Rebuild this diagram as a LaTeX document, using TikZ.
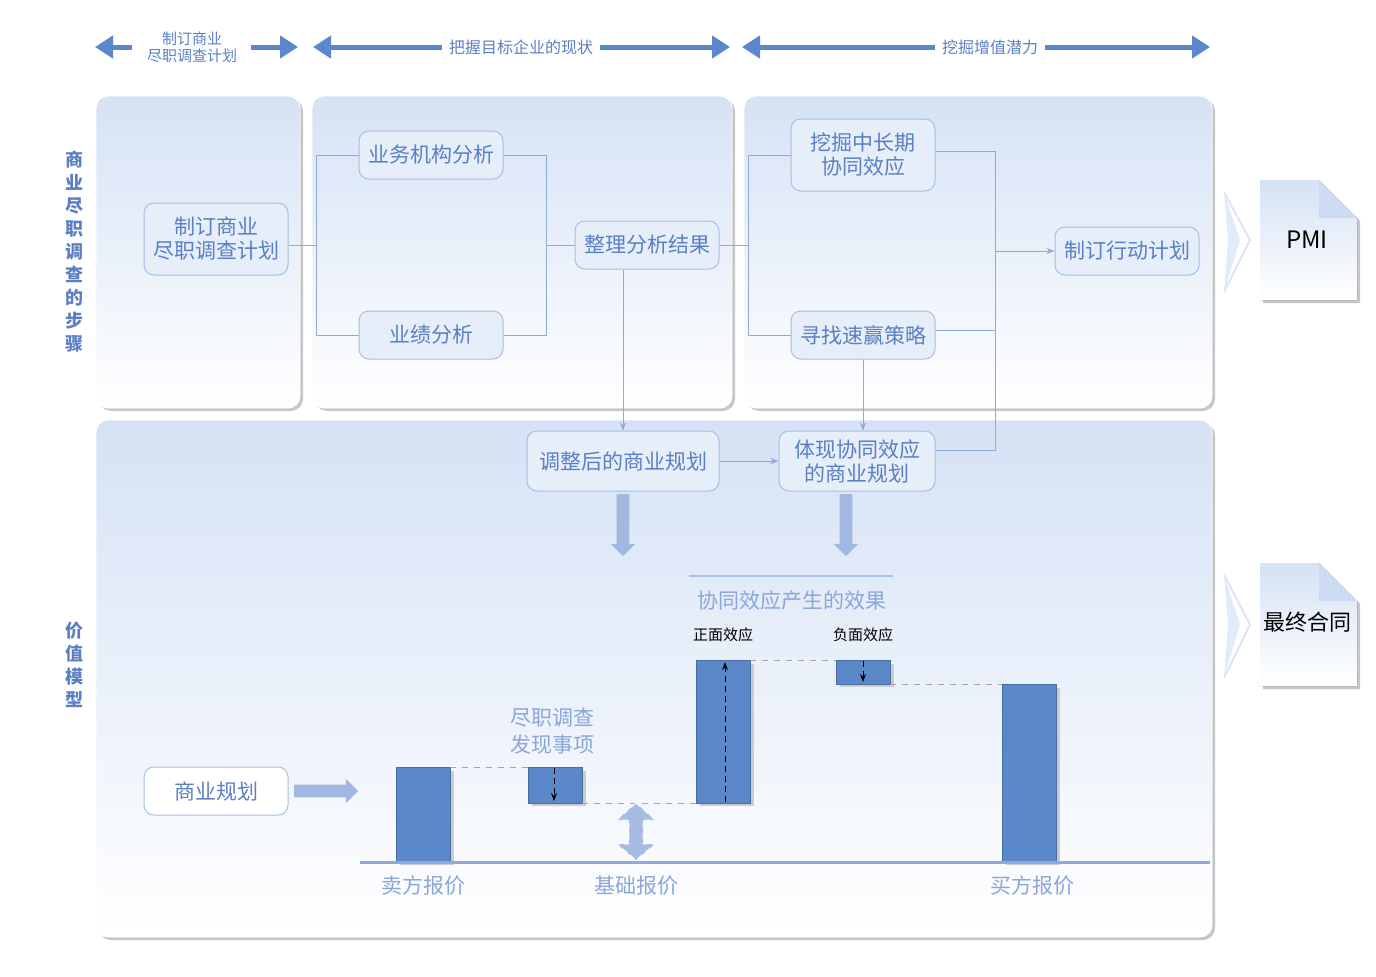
\documentclass[tikz,border=0pt]{standalone}
\usepackage{fontspec}
\setmainfont{Noto Sans CJK SC}
\usetikzlibrary{arrows.meta,shapes.arrows,shadows}
\definecolor{tb}{HTML}{5B7FC4}
\definecolor{bd}{HTML}{A9BEE3}
\definecolor{hd}{HTML}{5B87CC}
\definecolor{pf}{HTML}{D5E2F5}
\definecolor{bar}{HTML}{5A88C8}
\definecolor{lt}{HTML}{8AA6DA}
\definecolor{ln}{HTML}{8FA9DD}
\begin{document}
\begin{tikzpicture}[x=0.5pt,y=-0.5pt,
 panel/.style={rounded corners=6pt,top color=pf,bottom color=white,draw=white},
 box/.style={draw=bd,rounded corners=5pt,fill=pf!60!white,text=tb,font=\fontsize{10.5}{12}\selectfont,align=center,inner sep=0pt,line width=0.5pt},
 con/.style={draw=ln,line width=0.5pt},
 arr/.style={con,-{Stealth[length=4pt]}},
 hdr/.style={hd,line width=2.5pt},
 bars/.style={fill=bar,draw=bar!80!black,line width=0.3pt},
 shd/.style={fill=black!20},
 dl/.style={draw=black!35,dashed,line width=0.4pt},
 da/.style={draw=black,densely dashed,line width=0.5pt,-{Stealth[length=4pt]}},
 fat/.style={single arrow,fill=lt!80!white,draw=none,minimum height=30pt,single arrow head extend=3pt,text height=0pt,text depth=0pt,text width=0pt,inner xsep=0pt,inner ysep=3pt},
]
\useasboundingbox (0,0) rectangle (1376,976);
% header arrows
\node[text=tb,font=\fontsize{7.5}{8.5}\selectfont,align=center] (h1) at (192,47) {制订商业\\尽职调查计划};
\node[text=tb,font=\fontsize{8}{9}\selectfont] (h2) at (521,47) {把握目标企业的现状};
\node[text=tb,font=\fontsize{8}{9}\selectfont] (h3) at (990,47) {挖掘增值潜力};
\coordinate (a1) at (95,47); \coordinate (b1) at (298,47);
\coordinate (a2) at (313,47); \coordinate (b2) at (730,47);
\coordinate (a3) at (742,47); \coordinate (b3) at (1210,47);
\draw[hdr,{Triangle[length=9pt,width=11pt]}-] (a1) -- (132,47);
\draw[hdr,-{Triangle[length=9pt,width=11pt]}] (251,47) -- (b1);
\draw[hdr,{Triangle[length=9pt,width=11pt]}-] (a2) -- (h2.west);
\draw[hdr,-{Triangle[length=9pt,width=11pt]}] (h2.east) -- (b2);
\draw[hdr,{Triangle[length=9pt,width=11pt]}-] (a3) -- (h3.west);
\draw[hdr,-{Triangle[length=9pt,width=11pt]}] (h3.east) -- (b3);
% panels with shadows
\foreach \a/\b/\c/\d in {96/96/300/408,312/96/732/408,744/96/1212/408,96/420/1212/937}{
 \fill[black!22,rounded corners=6pt] (\a+3,\b+3) rectangle (\c+3,\d+3);
 \draw[panel] (\a,\b) rectangle (\c,\d);}
% side labels
\node[text=tb,font=\bfseries\fontsize{9}{11.5}\selectfont,align=center] (s1) at (74,252) {商\\业\\尽\\职\\调\\查\\的\\步\\骤};
\node[text=tb,font=\bfseries\fontsize{9}{11.5}\selectfont,align=center] (s2) at (74,665) {价\\值\\模\\型};
% boxes
\node[box,minimum width=72pt,minimum height=36pt] (plan) at (216,239) {制订商业\\尽职调查计划};
\node[box,minimum width=72pt,minimum height=24pt] (biz) at (431,155) {业务机构分析};
\node[box,minimum width=72pt,minimum height=24pt] (perf) at (431,335) {业绩分析};
\node[box,minimum width=72pt,minimum height=24pt] (res) at (647,245) {整理分析结果};
\node[box,minimum width=72pt,minimum height=36pt] (mid) at (863,155) {挖掘中长期\\协同效应};
\node[box,minimum width=72pt,minimum height=24pt] (quick) at (863,335) {寻找速赢策略};
\node[box,minimum width=72pt,minimum height=24pt] (act) at (1127,251) {制订行动计划};
\node[box,minimum width=96pt,minimum height=30pt] (adj) at (623,461) {调整后的商业规划};
\node[box,minimum width=78pt,minimum height=30pt] (syn) at (857,461) {体现协同效应\\的商业规划};
\node[box,minimum width=72pt,minimum height=24pt,fill=white] (bp) at (216,791) {商业规划};
% connectors
\draw[con] (plan.east|-0,245) -- (316,245);
\draw[con] (biz.west) -- (316,155) -- (316,335) -- (perf.west);
\draw[con] (biz.east) -- (546,155) -- (546,335) -- (perf.east);
\draw[con] (546,245) -- (res.west);
\draw[con] (res.east) -- (748,245);
\draw[con] (mid.west) -- (748,155) -- (748,335) -- (quick.west);
\draw[con] (mid.east|-0,151) -- (995,151) -- (995,450) -- (syn.east|-0,450);
\draw[con] (quick.east|-0,330) -- (995,330);
\draw[arr] (995,251) -- (act.west);
\draw[arr] (res.south-|623,0) -- (adj.north);
\draw[arr] (quick.south) -- (syn.north-|quick.south);
\draw[arr] (adj.east) -- (syn.west);
% fat arrows
\node[fat,rotate=-90,minimum height=31pt] (f1) at (623,522) {};
\node[fat,rotate=-90,minimum height=31pt] (f2) at (846,522) {};
\node[fat,minimum height=32pt] (f3) at (323,791) {};
% PMI docs
\foreach \y/\h/\t/\n in {180/120/PMI/d1,563/123/最终合同/d2}{
 \fill[pf!70!white] (1224,\y+12) -- (1240,\y+12+\h/2-12) -- (1224,\y+\h-8) -- (1228,\y+\h/2) -- cycle;
 \draw[white!60!bd,line width=1pt] (1224,\y+12) -- (1250,\y+\h/2) -- (1224,\y+\h-8);
 \fill[black!22] (1263,\y+3) -- (1322,\y+3) -- (1360,\y+41) -- (1360,\y+\h+3) -- (1263,\y+\h+3) -- cycle;
 \fill[top color=pf,bottom color=white] (1260,\y) -- (1319,\y) -- (1357,\y+38) -- (1357,\y+\h) -- (1260,\y+\h) -- cycle;
 \fill[pf!80!bd] (1319,\y) -- (1319,\y+38) -- (1357,\y+38) -- cycle;
}
\node[font=\fontsize{12}{14}\selectfont] (pmi) at (1307,240) {PMI};
\node[font=\fontsize{11}{13}\selectfont] (fc) at (1307,622) {最终合同};
% chart
\foreach \a/\b/\c/\d in {396/767/450/862,528/767/582/803,696/660/750/803,836/660/890/684,1002/684/1056/862}{
 \fill[shd] (\a+4,\b+4) rectangle (\c+4,\d+3);
 \draw[bars] (\a,\b) rectangle (\c,\d);}
\draw[ln,line width=1.5pt] (360,862) -- (1210,862);
\draw[dl] (450,767) -- (528,767);
\draw[dl] (582,803) -- (696,803);
\draw[dl] (750,660) -- (836,660);
\draw[dl] (890,684) -- (1002,684);
\draw[da] (554,768) -- (554,801);
\draw[da] (725,802) -- (725,662);
\draw[da] (863,661) -- (863,682);
\draw[fill=lt!75!white,draw=white,densely dashed,line width=0.4pt] (636,803) -- (655,820) -- (643,820) -- (643,844) -- (655,844) -- (636,860) -- (617,844) -- (629,844) -- (629,820) -- (617,820) -- cycle;
\node[text=lt,font=\fontsize{10.5}{12}\selectfont] (l1) at (423,886) {卖方报价};
\node[text=lt,font=\fontsize{10.5}{12}\selectfont] (l2) at (636,886) {基础报价};
\node[text=lt,font=\fontsize{10.5}{12}\selectfont] (l3) at (1032,886) {买方报价};
\node[text=lt,font=\fontsize{10.5}{13.5}\selectfont,align=center] (l4) at (552,731) {尽职调查\\发现事项};
\node[text=lt,font=\fontsize{10.5}{12}\selectfont] (l5) at (792,600) {协同效应产生的效果};
\draw[lt!70!white,line width=1pt] (689,576) -- (893,576);
\node[font=\fontsize{7.5}{9}\selectfont] (l6) at (723,635) {正面效应};
\node[font=\fontsize{7.5}{9}\selectfont] (l7) at (863,635) {负面效应};
\end{tikzpicture}
\end{document}
